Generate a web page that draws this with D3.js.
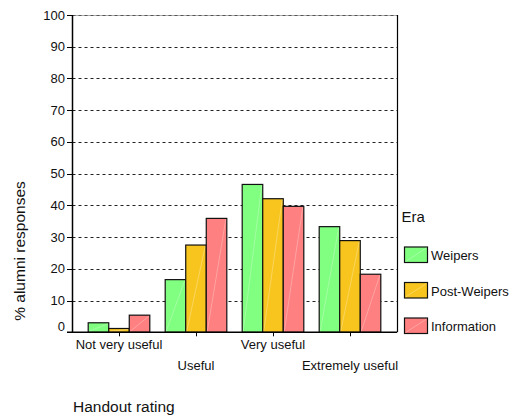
<!DOCTYPE html>
<html><head><meta charset="utf-8">
<script src="https://cdn.jsdelivr.net/npm/d3@7"></script>
<style>body{margin:0;background:#fff;} svg{display:block;} text{font-family:"Liberation Sans",Arial,sans-serif;fill:#111;}</style>
</head><body>
<svg id="chart" width="521" height="419"></svg>
<script>
const categories = ["Not very useful", "Useful", "Very useful", "Extremely useful"];
const seriesNames = ["Weipers", "Post-Weipers", "Information"];
const weipers = [3.0, 16.6, 46.6, 33.3];
const postWeipers = [1.2, 27.5, 42.1, 28.9];
const information = [5.4, 35.9, 39.7, 18.3];
const colors = ["#80ff80", "#f8c51f", "#ff8080"];
const yTicks = [0, 10, 20, 30, 40, 50, 60, 70, 80, 90, 100];
const yTitle = "% alumni responses";
const xTitle = "Handout rating";
const legendTitle = "Era";

(function() {
const seriesValues = [weipers, postWeipers, information];
const svg = d3.select("#chart");
const pLeft = 72.5, pRight = 397, pTop = 15, pBottom = 332.3;

const y = d3.scaleLinear().domain([0, 100]).range([pBottom, pTop]);
const x = d3.scaleBand().domain(categories).range([80.5, 388.5]).paddingInner(0.2).paddingOuter(0.1);
const xs = d3.scaleBand().domain(seriesNames).range([0, x.bandwidth()]);

// gridlines
svg.append("g").selectAll("line").data(yTicks.filter(d => d > 0)).join("line")
  .attr("x1", pLeft).attr("x2", pRight)
  .attr("y1", d => Math.round(y(d)) + 0.5).attr("y2", d => Math.round(y(d)) + 0.5)
  .attr("stroke", "#222").attr("stroke-width", 1).attr("stroke-dasharray", "3,3");
svg.append("line").attr("x1", pLeft).attr("x2", pRight).attr("y1", Math.round(y(100)) + 0.5).attr("y2", Math.round(y(100)) + 0.5)
  .attr("stroke", "#777").attr("stroke-width", 1).attr("stroke-opacity", 0.6);

// bars
const groups = svg.append("g").selectAll("g").data(categories).join("g")
  .attr("transform", d => `translate(${x(d)},0)`);
groups.each(function(cat, ci) {
  const g = d3.select(this);
  seriesNames.forEach((s, si) => {
    const v = seriesValues[si][ci];
    const x0 = xs(s), w = xs.bandwidth();
    const y0 = y(v);
    g.append("rect").attr("x", x0).attr("y", y0).attr("width", w).attr("height", pBottom - y0)
      .attr("fill", colors[si]).attr("stroke", "#111").attr("stroke-width", 1.2);
    g.append("line").attr("x1", x0 + 1).attr("y1", pBottom - 1).attr("x2", x0 + w - 1).attr("y2", y0 + 1)
      .attr("stroke", "#fff").attr("stroke-opacity", 0.35).attr("stroke-width", 0.8);
  });
});

// right border
svg.append("line").attr("x1", pRight + 0.5).attr("x2", pRight + 0.5).attr("y1", pTop).attr("y2", pBottom)
  .attr("stroke", "#000").attr("stroke-width", 1.2);

// y axis
const yAxis = svg.append("g");
yAxis.append("line").attr("x1", pLeft).attr("x2", pLeft).attr("y1", pTop).attr("y2", pBottom).attr("stroke", "#000").attr("stroke-width", 1.5);
yAxis.selectAll("line.t").data(yTicks).join("line").attr("class", "t")
  .attr("x1", 67).attr("x2", pLeft).attr("y1", d => Math.round(y(d)) + 0.5).attr("y2", d => Math.round(y(d)) + 0.5)
  .attr("stroke", "#000").attr("stroke-width", 1);
yAxis.selectAll("text").data(yTicks).join("text")
  .attr("x", 65).attr("y", d => d === 0 ? y(d) - 6 : y(d))
  .attr("dy", "0.35em").attr("text-anchor", "end").attr("font-size", 13).text(d => d);

// x axis
const xAxis = svg.append("g");
xAxis.append("line").attr("x1", 67).attr("x2", pRight).attr("y1", pBottom).attr("y2", pBottom).attr("stroke", "#000").attr("stroke-width", 1.5);
xAxis.selectAll("line.t").data(categories).join("line").attr("class", "t")
  .attr("x1", d => Math.round(x(d) + x.bandwidth() / 2) + 0.5).attr("x2", d => Math.round(x(d) + x.bandwidth() / 2) + 0.5)
  .attr("y1", pBottom).attr("y2", pBottom + 4).attr("stroke", "#000");
xAxis.selectAll("text").data(categories).join("text")
  .attr("x", d => x(d) + x.bandwidth() / 2).attr("y", (d, i) => i % 2 === 0 ? 344 : 365)
  .attr("dy", "0.35em").attr("text-anchor", "middle").attr("font-size", 13).text(d => d);

// titles
svg.append("text").attr("x", 73).attr("y", 407).attr("dy", "0.35em").attr("font-size", 15.5).text(xTitle);
svg.append("text").attr("transform", "translate(20,251) rotate(-90)").attr("text-anchor", "middle")
  .attr("dy", "0.35em").attr("font-size", 15.5).text(yTitle);

// legend
svg.append("text").attr("x", 401.5).attr("y", 216.5).attr("dy", "0.35em").attr("font-size", 15).text(legendTitle);
const lg = svg.append("g").selectAll("g").data(seriesNames).join("g")
  .attr("transform", (d, i) => `translate(404.5,${247 + i * 35.5})`);
lg.append("rect").attr("width", 23).attr("height", 15.5).attr("fill", (d, i) => colors[i]).attr("stroke", "#111").attr("stroke-width", 1.2);
lg.append("line").attr("x1", 1).attr("y1", 14.5).attr("x2", 22).attr("y2", 1).attr("stroke", "#fff").attr("stroke-opacity", 0.35).attr("stroke-width", 0.8);
lg.append("text").attr("x", 26.5).attr("y", 8.5).attr("dy", "0.35em").attr("font-size", 13).text(d => d);
})();
</script>
</body></html>
